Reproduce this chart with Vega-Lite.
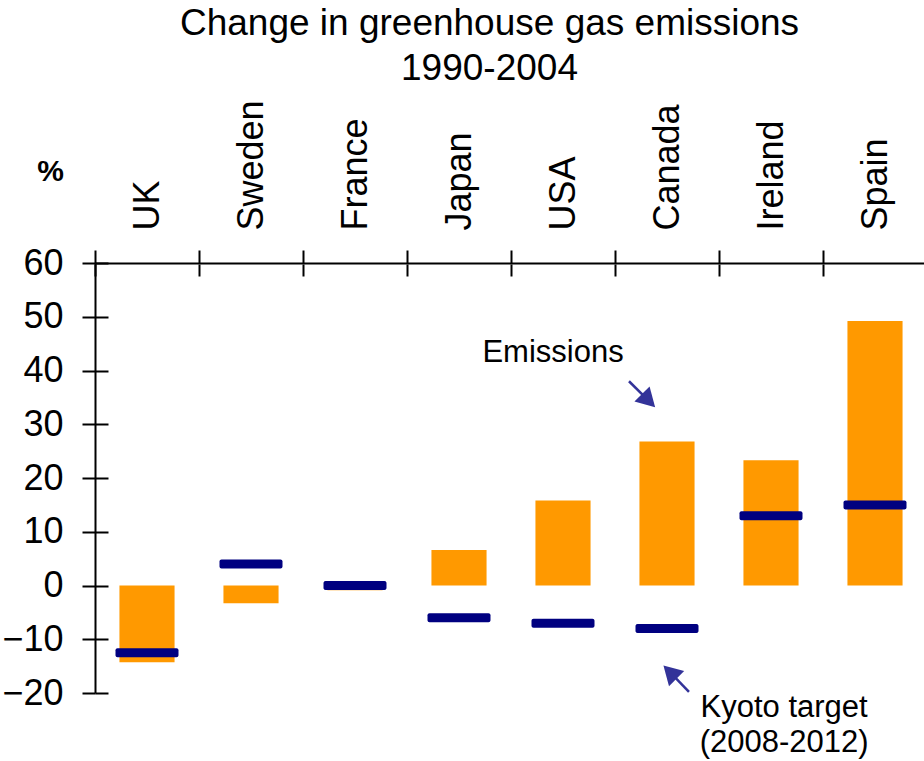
{
  "$schema": "https://vega.github.io/schema/vega-lite/v6.json",
  "width": 829,
  "height": 430,
  "autosize": {"type": "none"},
  "padding": {"left": 95, "top": 263, "right": 0, "bottom": 68},
  "background": "white",
  "config": {"view": {"stroke": null}, "font": "Liberation Sans"},
  "title": {
    "text": ["Change in greenhouse gas emissions", "1990-2004"],
    "fontSize": 37,
    "fontWeight": "normal",
    "font": "Liberation Sans",
    "color": "black",
    "lineHeight": 45,
    "anchor": "middle",
    "frame": "group",
    "dx": -20,
    "offset": 12
  },
  "datasets": {
    "countries": [
      {"country": "UK", "emissions": -14.3, "target": -12.5},
      {"country": "Sweden", "emissions": -3.3, "target": 4},
      {"country": "France", "emissions": -0.9, "target": 0},
      {"country": "Japan", "emissions": 6.6, "target": -6},
      {"country": "USA", "emissions": 15.8, "target": -7},
      {"country": "Canada", "emissions": 26.8, "target": -8},
      {"country": "Ireland", "emissions": 23.3, "target": 13},
      {"country": "Spain", "emissions": 49.2, "target": 15}
    ],
    "arrows": [
      {"note": "Emissions", "x": 5.153, "y": 38.0, "x2": 5.342, "y2": 34.4},
      {"note": "Kyoto", "x": 5.732, "y": -19.8, "x2": 5.549, "y2": -16.1}
    ],
    "notes": [
      {"text": "Emissions", "x": 4.42, "y": 43.3},
      {"text": "Kyoto target", "x": 6.65, "y": -22.8},
      {"text": "(2008-2012)", "x": 6.65, "y": -29.3}
    ]
  },
  "layer": [
    {
      "data": {"name": "countries"},
      "mark": {"type": "bar", "color": "#FF9900", "width": {"band": 0.53}},
      "encoding": {
        "x": {
          "field": "country",
          "type": "nominal",
          "sort": null,
          "scale": {"domain": ["UK", "Sweden", "France", "Japan", "USA", "Canada", "Ireland", "Spain"], "paddingInner": 0, "paddingOuter": 0, "range": [0, 832]},
          "axis": {
            "orient": "top",
            "title": null,
            "tickBand": "extent",
            "tickSize": 13,
            "tickWidth": 2,
            "tickColor": "black",
            "domainColor": "black",
            "domainWidth": 2,
            "labelAngle": -90,
            "labelFont": "Liberation Sans",
            "labelFontSize": 36,
            "labelColor": "black",
            "labelPadding": 20,
            "grid": false
          }
        },
        "y": {
          "field": "emissions",
          "type": "quantitative",
          "scale": {"domain": [-20, 60], "nice": false, "zero": false},
          "axis": {
            "orient": "left",
            "values": [-20, -10, 0, 10, 20, 30, 40, 50, 60],
            "tickSize": 13,
            "tickWidth": 2,
            "tickColor": "black",
            "domainColor": "black",
            "domainWidth": 2,
            "labelFont": "Liberation Sans",
            "labelFontSize": 36,
            "labelColor": "black",
            "labelPadding": 19,
            "labelFlush": false,
            "labelOverlap": false,
            "grid": false,
            "title": "%",
            "titleAngle": 0,
            "titleFont": "Liberation Sans",
            "titleFontSize": 30,
            "titleFontWeight": "bold",
            "titleColor": "black",
            "titleX": -45,
            "titleY": -92,
            "titleAlign": "center",
            "titleBaseline": "middle"
          }
        }
      }
    },
    {
      "mark": {"type": "rule", "color": "black", "strokeWidth": 2},
      "encoding": {
        "y": {"datum": 0, "type": "quantitative", "scale": {"domain": [-20, 60], "nice": false, "zero": false}, "axis": null}
      }
    },
    {
      "data": {"name": "countries"},
      "mark": {"type": "tick", "color": "#000080", "thickness": 9, "size": 63, "cornerRadius": 2, "orient": "horizontal", "opacity": 1},
      "encoding": {
        "x": {
          "field": "country",
          "type": "nominal",
          "sort": null,
          "scale": {"domain": ["UK", "Sweden", "France", "Japan", "USA", "Canada", "Ireland", "Spain"], "paddingInner": 0, "paddingOuter": 0, "range": [0, 832]},
          "axis": {
            "orient": "top",
            "offset": -13,
            "title": null,
            "tickBand": "extent",
            "tickSize": 12,
            "tickWidth": 2,
            "tickColor": "black",
            "domain": false,
            "labels": false,
            "grid": false
          }
        },
        "y": {
          "field": "target",
          "type": "quantitative",
          "scale": {"domain": [-20, 60], "nice": false, "zero": false},
          "axis": {
            "orient": "left",
            "offset": -13,
            "values": [-20, -10, 0, 10, 20, 30, 40, 50, 60],
            "tickSize": 13,
            "tickWidth": 2,
            "tickColor": "black",
            "domain": false,
            "labels": false,
            "grid": false,
            "title": null
          }
        }
      }
    },
    {
      "layer": [
        {
          "data": {"name": "arrows"},
          "mark": {"type": "rule", "color": "#333399", "strokeWidth": 2.5},
          "encoding": {
            "x": {"field": "x", "type": "quantitative", "scale": {"domain": [0, 8], "nice": false, "zero": false}, "axis": null},
            "x2": {"field": "x2"},
            "y": {"field": "y", "type": "quantitative", "scale": {"domain": [-20, 60], "nice": false, "zero": false}, "axis": null},
            "y2": {"field": "y2"}
          }
        },
        {
          "data": {"name": "arrows"},
          "mark": {"type": "point", "shape": "triangle-up", "filled": true, "size": 460, "color": "#333399", "opacity": 1},
          "encoding": {
            "x": {"field": "x2", "type": "quantitative", "scale": {"domain": [0, 8], "nice": false, "zero": false}, "axis": null},
            "y": {"field": "y2", "type": "quantitative", "scale": {"domain": [-20, 60], "nice": false, "zero": false}, "axis": null},
            "angle": {"field": "note", "type": "nominal", "scale": {"domain": ["Emissions", "Kyoto"], "range": [135, 315]}, "legend": null}
          }
        },
        {
          "data": {"name": "notes"},
          "mark": {"type": "text", "font": "Liberation Sans", "fontSize": 31, "color": "black", "align": "center", "baseline": "middle"},
          "encoding": {
            "x": {"field": "x", "type": "quantitative", "scale": {"domain": [0, 8], "nice": false, "zero": false}, "axis": null},
            "y": {"field": "y", "type": "quantitative", "scale": {"domain": [-20, 60], "nice": false, "zero": false}, "axis": null},
            "text": {"field": "text", "type": "nominal"}
          }
        }
      ]
    }
  ],
  "resolve": {"scale": {"x": "independent"}, "axis": {"x": "independent", "y": "independent"}}
}
